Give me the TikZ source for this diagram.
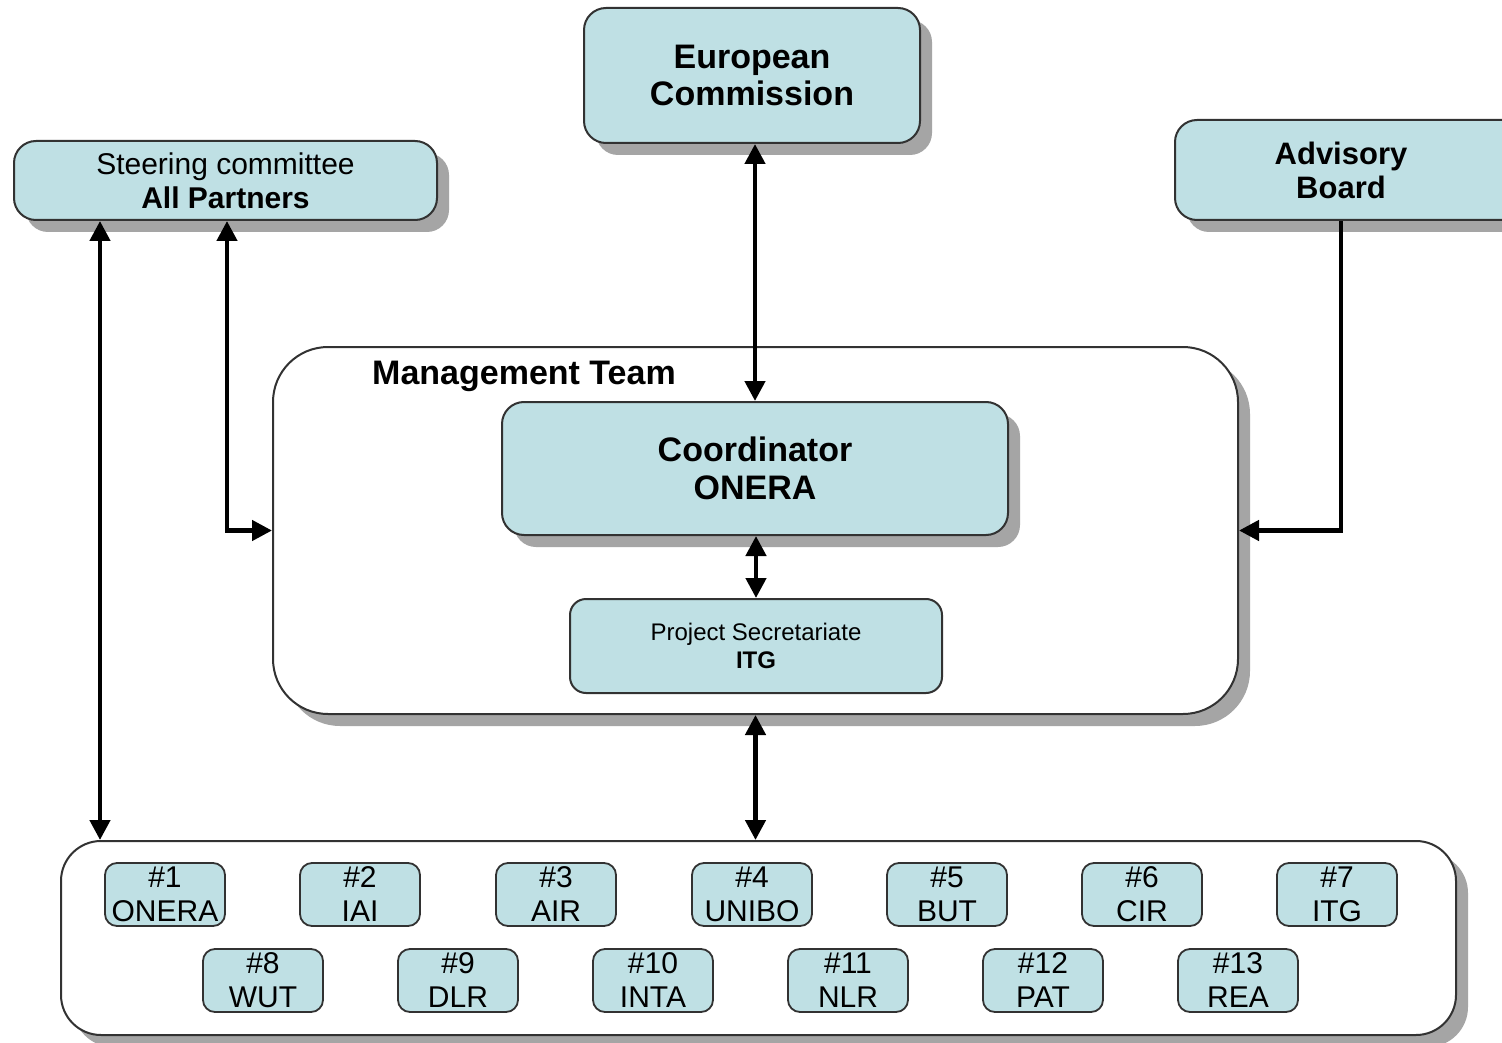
\documentclass[tikz,border=0pt]{standalone}
\usepackage{fontspec}
\setmainfont{Liberation Sans}
\usetikzlibrary{arrows.meta,shadows}
\definecolor{boxblue}{RGB}{191,224,228}
\definecolor{edgec}{RGB}{50,50,50}
\definecolor{shade}{RGB}{165,165,165}
\begin{document}
\begin{tikzpicture}[x=1pt,y=-1pt,
 shadowed/.style={drop shadow={shadow xshift=12pt,shadow yshift=-12pt,fill=shade,opacity=1}},
 bigbox/.style={draw=edgec,line width=2pt,fill=boxblue,rounded corners=22pt,inner sep=0pt,align=center,text=black},
 partbox/.style={draw=edgec,line width=1.8pt,fill=boxblue,rounded corners=12pt,minimum width=120pt,minimum height=63pt,inner sep=0pt,align=center,font=\fontsize{30}{34}\selectfont},
 frame/.style={draw=edgec,line width=2pt,fill=white,inner sep=0pt},
 conn/.style={line width=4.5pt,black},
 dbl/.style={conn,{Triangle[length=20pt,width=20pt]}-{Triangle[length=20pt,width=20pt]}},
 sgl/.style={conn,-{Triangle[length=20pt,width=20pt]}},
]
\path[use as bounding box,clip] (0,0) rectangle (1502,1043);
\fill[white] (0,0) rectangle (1502,1043);

% top boxes
\node[bigbox,shadowed,minimum width=336pt,minimum height=135pt,font=\bfseries\fontsize{34}{37}\selectfont] (ec) at (752,75.5) {European\\Commission};
\node[bigbox,shadowed,minimum width=423pt,minimum height=79pt,font=\fontsize{30}{34}\selectfont] (steer) at (225.5,180.5) {Steering committee\\\textbf{All Partners}};
\node[bigbox,shadowed,minimum width=400pt,minimum height=100pt] (adv) at (1375,170) {};
\node[align=center,font=\bfseries\fontsize{31}{34}\selectfont,inner sep=0pt] (advt) at (1341,170) {Advisory\\Board};

% management team
\node[frame,shadowed,rounded corners=55pt,minimum width=965pt,minimum height=367pt] (mgmt) at (755.5,530.5) {};
\node[font=\bfseries\fontsize{34}{38}\selectfont,inner sep=0pt] (mtl) at (524,376) {Management Team};
\node[bigbox,shadowed,minimum width=506pt,minimum height=133pt,font=\bfseries\fontsize{34}{38}\selectfont] (coord) at (755,468.5) {Coordinator\\ONERA};
\node[bigbox,rounded corners=16pt,minimum width=372pt,minimum height=94pt,font=\fontsize{24}{28}\selectfont] (sec) at (756,646) {Project Secretariate\\\textbf{ITG}};

% partners
\node[frame,shadowed,rounded corners=40pt,minimum width=1395pt,minimum height=194pt] (parts) at (758.5,938) {};
\node[partbox] (p1) at (165,894.5) {\#1\\ONERA};
\node[partbox] (p2) at (360,894.5) {\#2\\IAI};
\node[partbox] (p3) at (556,894.5) {\#3\\AIR};
\node[partbox] (p4) at (752,894.5) {\#4\\UNIBO};
\node[partbox] (p5) at (947,894.5) {\#5\\BUT};
\node[partbox] (p6) at (1142,894.5) {\#6\\CIR};
\node[partbox] (p7) at (1337,894.5) {\#7\\ITG};
\node[partbox] (p8) at (263,980.5) {\#8\\WUT};
\node[partbox] (p9) at (458,980.5) {\#9\\DLR};
\node[partbox] (p10) at (653,980.5) {\#10\\INTA};
\node[partbox] (p11) at (848,980.5) {\#11\\NLR};
\node[partbox] (p12) at (1043,980.5) {\#12\\PAT};
\node[partbox] (p13) at (1238,980.5) {\#13\\REA};

% connectors
\coordinate (sx1) at (100,0);
\coordinate (sx2) at (227,0);
\coordinate (ax) at (1341,0);
\draw[dbl] (ec.south -| coord.north) -- (coord.north);
\draw[dbl] (steer.south -| sx1) -- (parts.north -| sx1);
\draw[dbl] (steer.south -| sx2) |- (mgmt.west);
\draw[sgl] (adv.south -| ax) |- (mgmt.east);
\draw[dbl] (coord.south -| sec.north) -- (sec.north);
\draw[dbl] (mgmt.south) -- (parts.north -| mgmt.south);
\end{tikzpicture}
\end{document}
